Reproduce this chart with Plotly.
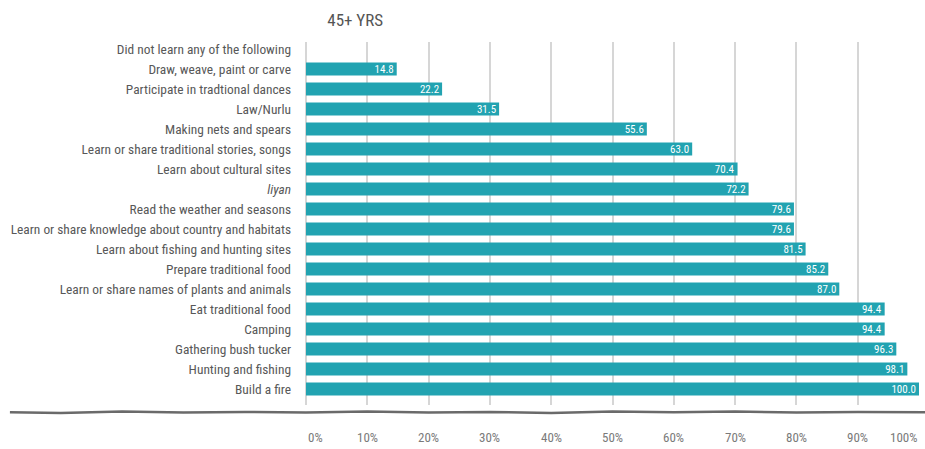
import plotly.graph_objects as go

categories = [
    "Did not learn any of the following",
    "Draw, weave, paint or carve",
    "Participate in tradtional dances",
    "Law/Nurlu",
    "Making nets and spears",
    "Learn or share traditional stories, songs",
    "Learn about cultural sites",
    "<i>liyan</i>",
    "Read the weather and seasons",
    "Learn or share knowledge about country and habitats",
    "Learn about fishing and hunting sites",
    "Prepare traditional food",
    "Learn or share names of plants and animals",
    "Eat traditional food",
    "Camping",
    "Gathering bush tucker",
    "Hunting and fishing",
    "Build a fire",
]
values = [0.0, 14.8, 22.2, 31.5, 55.6, 63.0, 70.4, 72.2, 79.6, 79.6,
          81.5, 85.2, 87.0, 94.4, 94.4, 96.3, 98.1, 100.0]
tick_vals = [0, 10, 20, 30, 40, 50, 60, 70, 80, 90, 100]
tick_text = [f"{v}%" for v in tick_vals]

FONT = "Roboto Condensed, Liberation Sans Narrow, Roboto, sans-serif"
BAR = "#22a3b1"

labels = [f"{v:.1f}" if v > 0 else "" for v in values]

fig = go.Figure(go.Bar(
    x=values,
    y=categories,
    orientation="h",
    marker=dict(color=BAR, line=dict(width=0)),
    text=labels,
    textposition="inside",
    insidetextanchor="end",
    constraintext="none",
    textfont=dict(family=FONT, size=11, color="white"),
    cliponaxis=False,
))

# rough hand-drawn baseline under the plot
wave_pts = [(-0.483, -0.020), (-0.40, -0.022), (-0.30, -0.018), (-0.20, -0.021),
            (-0.10, -0.019), (0.00, -0.021), (0.10, -0.018), (0.20, -0.021),
            (0.30, -0.019), (0.40, -0.022), (0.50, -0.018), (0.60, -0.020),
            (0.70, -0.018), (0.80, -0.021), (0.90, -0.019), (1.01, -0.020)]
wave = "M " + " L ".join(f"{x} {y}" for x, y in wave_pts)
fig.add_shape(type="path", xref="paper", yref="paper", path=wave,
              line=dict(color="#6a6a6a", width=2.5))

# x tick labels, kept inside the plot width at both ends
for v, t in zip(tick_vals, tick_text):
    anchor = "left" if v == tick_vals[0] else ("right" if v == tick_vals[-1] else "center")
    fig.add_annotation(x=v, xref="x", y=-0.09, yref="paper", text=t,
                       showarrow=False, xanchor=anchor, yanchor="middle",
                       font=dict(family=FONT, size=13, color="#7a7a7a"))

fig.update_layout(
    width=925, height=449,
    margin=dict(l=306, r=6, t=42, b=44),
    paper_bgcolor="white", plot_bgcolor="white",
    bargap=0.35,
    showlegend=False,
    title=dict(text="45+ YRS", x=0.384, xanchor="center", y=0.955, yanchor="middle",
               font=dict(family=FONT, size=17, color="#555555")),
    font=dict(family=FONT),
)
fig.update_xaxes(
    range=[0, 100], tickvals=tick_vals, showticklabels=False,
    showgrid=True, gridcolor="#d6d6d6", gridwidth=1.5,
    zeroline=True, zerolinecolor="#d6d6d6", zerolinewidth=1.5,
    showline=False, ticks="",
    fixedrange=True,
)
fig.update_yaxes(
    categoryorder="array", categoryarray=categories,
    range=[17.8, -0.35],
    showgrid=False, zeroline=False, showline=False, ticks="",
    tickfont=dict(family=FONT, size=13.4, color="#585858"),
    ticklabelstandoff=14,
    fixedrange=True,
)

fig.write_html("out.html")
